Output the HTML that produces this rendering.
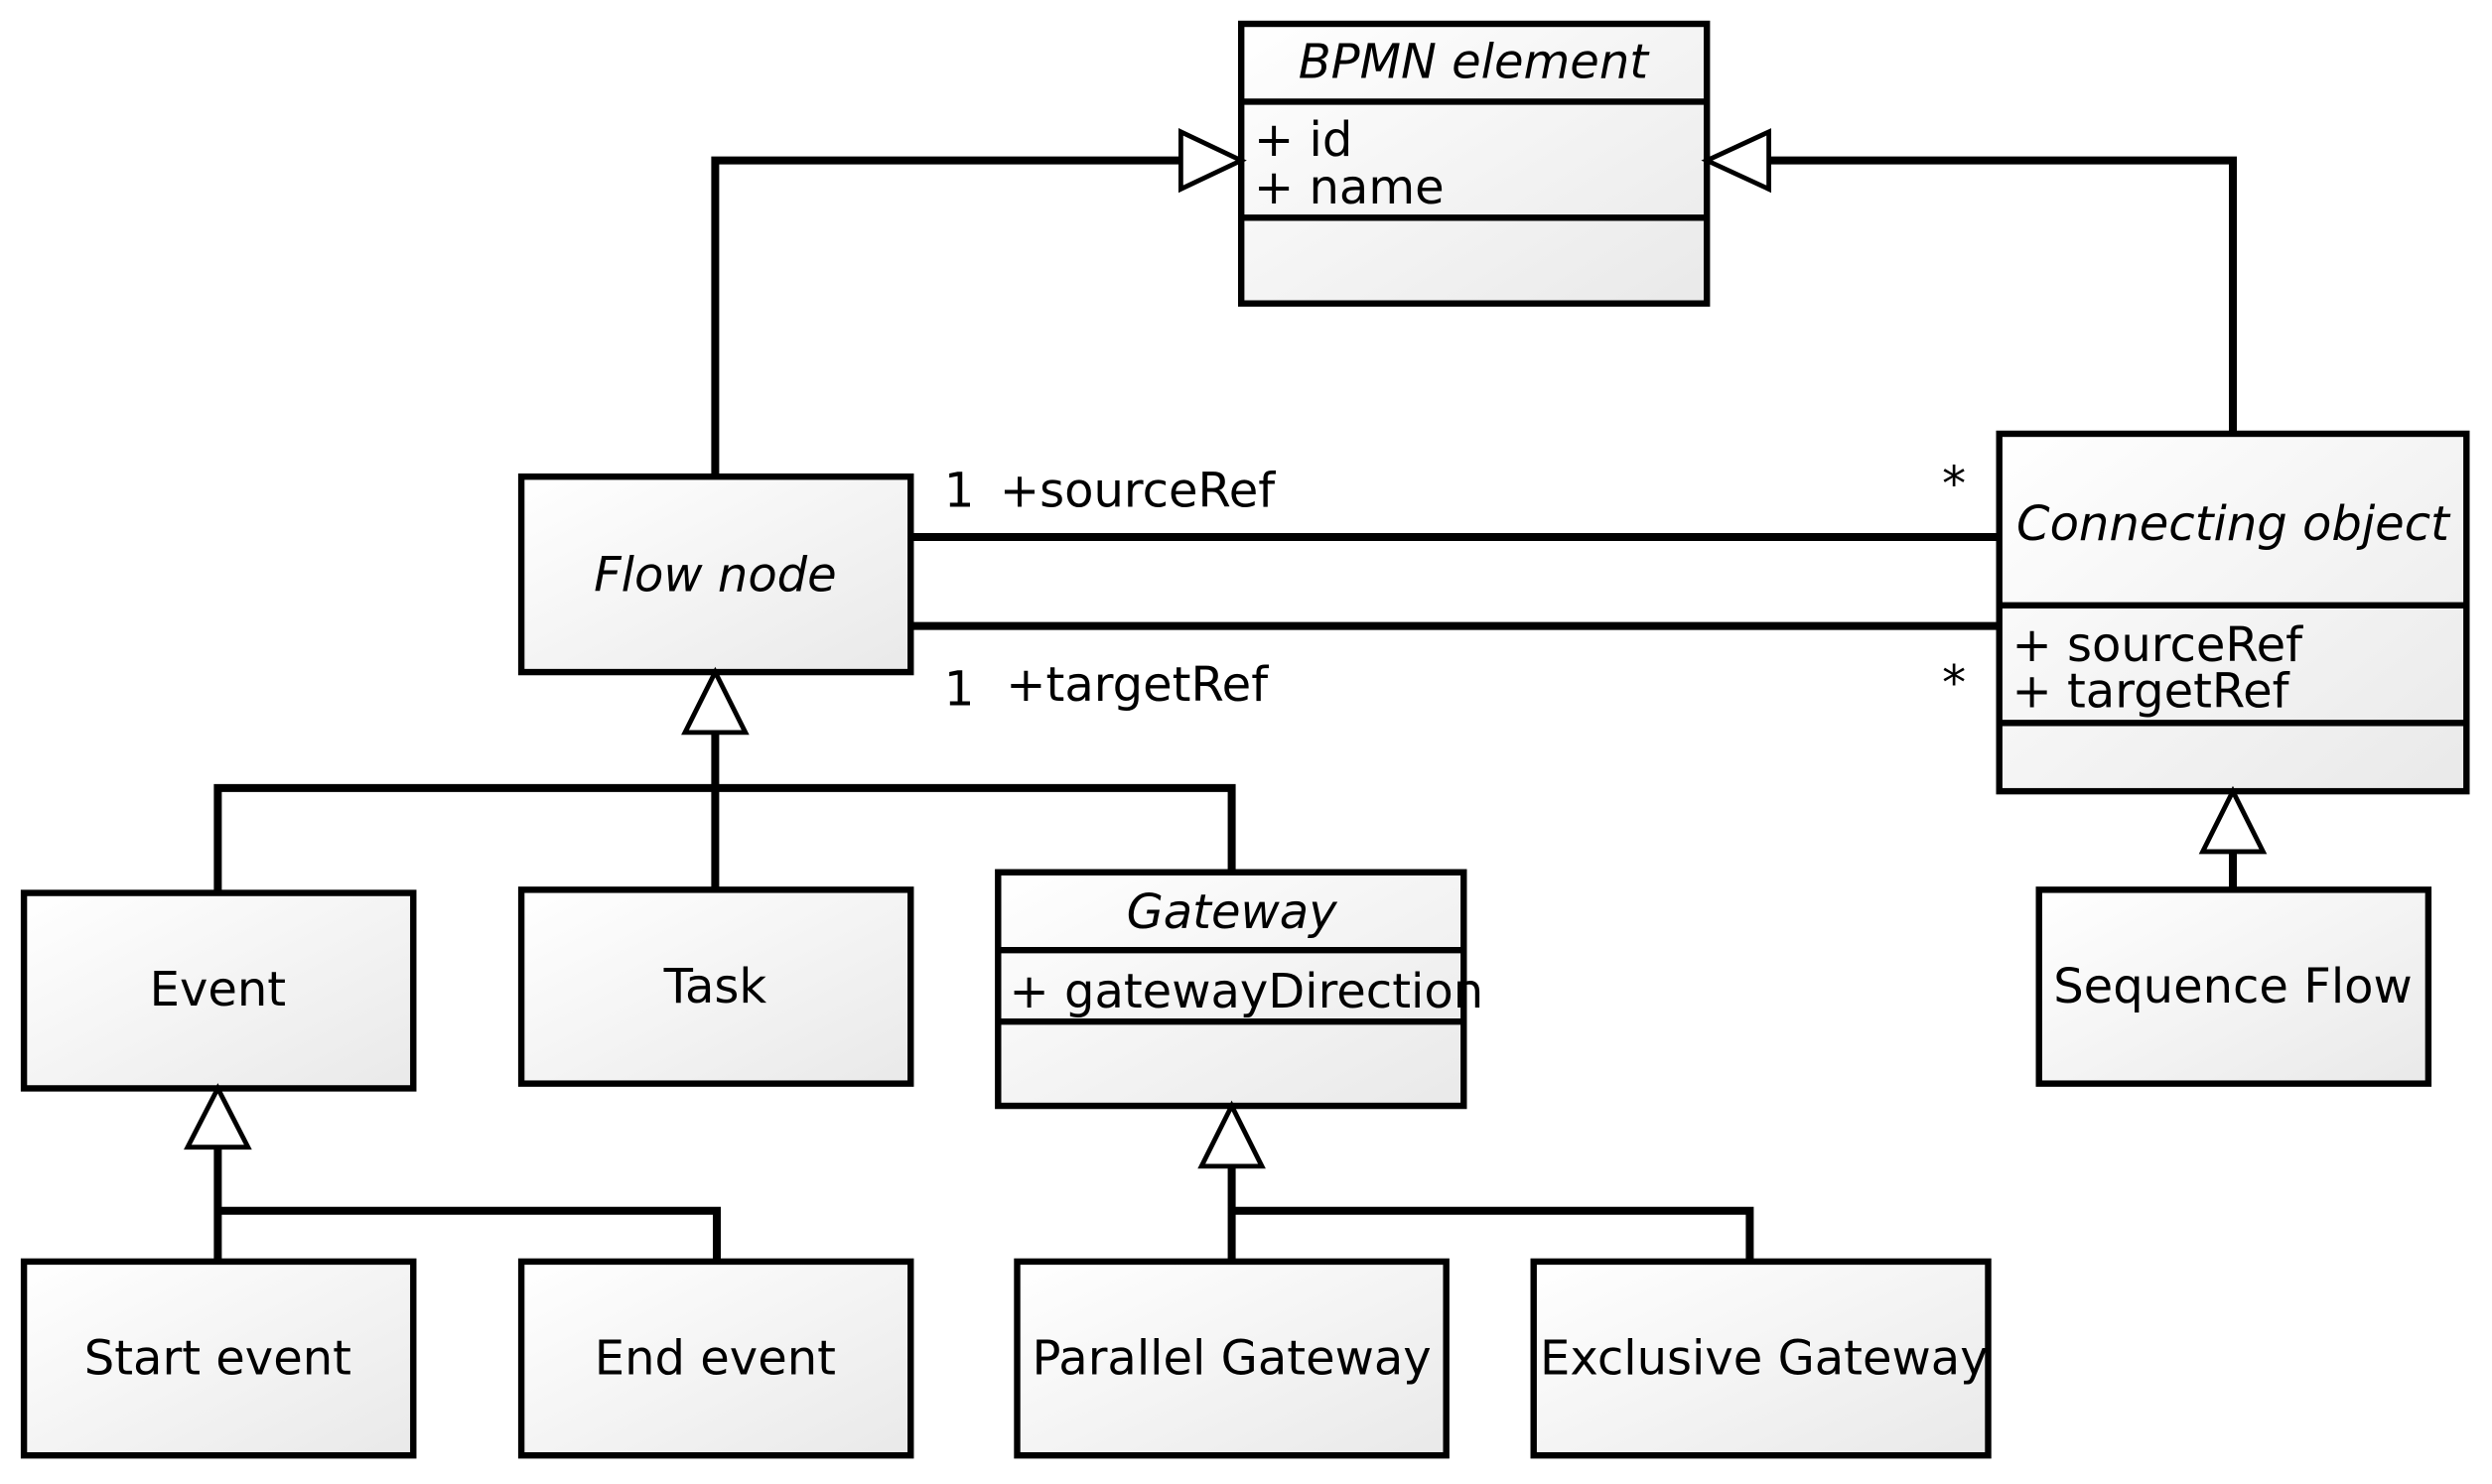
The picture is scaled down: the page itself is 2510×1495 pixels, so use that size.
<!DOCTYPE html>
<html><head><meta charset="utf-8"><style>html,body{margin:0;padding:0;background:#fff}svg{display:block}</style></head>
<body>
<svg width="2510" height="1495" viewBox="0 0 1568 934" xmlns="http://www.w3.org/2000/svg" font-family="'DejaVu Sans',sans-serif" font-size="30">
<defs><linearGradient id="g" x1="0" y1="0" x2="1" y2="1"><stop offset="0" stop-color="#fff"/><stop offset="1" stop-color="#e9e9e9"/></linearGradient></defs>
<g fill="url(#g)" stroke="#000" stroke-width="4">
<rect x="781" y="15" width="293" height="176"/>
<rect x="328" y="300" width="245" height="123"/>
<rect x="1258" y="273" width="294" height="225"/>
<rect x="15" y="562" width="245" height="123"/>
<rect x="328" y="560" width="245" height="122"/>
<rect x="628" y="549" width="293" height="147"/>
<rect x="1283" y="560" width="245" height="122"/>
<rect x="15" y="794" width="245" height="122"/>
<rect x="328" y="794" width="245" height="122"/>
<rect x="640" y="794" width="270" height="122"/>
<rect x="965" y="794" width="286" height="122"/>
</g>
<g stroke="#000" stroke-width="4" fill="none">
<path d="M781 64H1074M781 137H1074M1258 381H1552M1258 455H1552M628 598H921M628 643H921"/>
</g>
<g stroke="#000" stroke-width="5" fill="none">
<path d="M450 300V101H743M1405 273V101H1113M573 338H1258M573 394H1258"/>
<path d="M450 461V560M137 562V496H775V549"/>
<path d="M137 722V794M137 762H451V794"/>
<path d="M775 734V794M775 762H1101V794"/>
<path d="M1405 536V560"/>
</g>
<g fill="#fff" stroke="#000" stroke-width="3">
<path d="M781 101L743 83V119Z"/>
<path d="M1074 101L1113 83V119Z"/>
<path d="M450 423L431 461H469Z"/>
<path d="M137 685L118 722H156Z"/>
<path d="M775 696L756 734H794Z"/>
<path d="M1405 498L1386 536H1424Z"/>
</g>
<g fill="#000" text-anchor="middle">
<text x="927" y="49" font-style="italic">BPMN element</text>
<text x="450" y="372" font-style="italic">Flow node</text>
<text x="1405" y="340" font-style="italic">Connecting object</text>
<text x="775" y="584" font-style="italic">Gateway</text>
<text x="137" y="633">Event</text>
<text x="450" y="631">Task</text>
<text x="1405" y="631">Sequence Flow</text>
<text x="137" y="865">Start event</text>
<text x="450" y="865">End event</text>
<text x="775" y="865">Parallel Gateway</text>
<text x="1110" y="865">Exclusive Gateway</text>
</g>
<g fill="#000">
<text x="789" y="98">+ id</text>
<text x="789" y="128">+ name</text>
<text x="1266" y="416">+ sourceRef</text>
<text x="1266" y="445">+ targetRef</text>
<text x="635" y="634">+ gatewayDirection</text>
<text x="594" y="319">1</text>
<text x="629" y="319">+sourceRef</text>
<text x="594" y="444">1</text>
<text x="633" y="441">+targetRef</text>
<text x="1222" y="315">*</text>
<text x="1222" y="440">*</text>
</g>
</svg>
</body></html>
